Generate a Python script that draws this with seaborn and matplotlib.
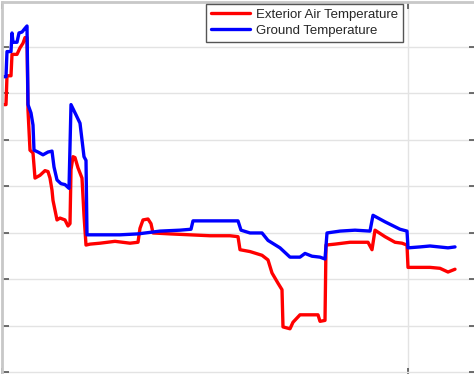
import pandas as pd
import matplotlib.pyplot as plt
import seaborn as sns

# time in hours, temperature in degC
air_hours = [1, 4, 5, 9, 10, 15, 18, 21, 23, 25, 26, 28, 31, 33, 38, 43, 46, 48, 50, 51,
             55, 58, 63, 66, 68, 69, 71, 73, 76, 80, 82, 84, 88, 98, 113, 128, 136, 138,
             141, 146, 149, 151, 168, 188, 208, 228, 236, 238, 248, 260, 266, 270, 276,
             280, 281, 288, 291, 298, 316, 318, 323, 324, 333, 348, 366, 370, 373, 383,
             393, 400, 405, 406, 418, 428, 438, 446, 453]
air_temp = [23.8, 23.8, 26.9, 26.9, 29.2, 29.2, 29.9, 30.4, 31.0, 31.0, 23.2, 18.9, 18.6,
            15.9, 16.2, 16.7, 16.6, 15.9, 14.6, 13.5, 11.4, 11.6, 11.4, 10.75, 11.0, 16.8,
            18.2, 18.1, 17.0, 15.9, 11.9, 8.7, 8.8, 8.9, 9.1, 8.9, 9.0, 10.5, 11.4, 11.5,
            11.0, 10.0, 9.9, 9.8, 9.7, 9.7, 9.6, 8.2, 8.0, 7.6, 7.1, 5.7, 4.6, 3.9, -0.1,
            -0.3, 0.4, 1.2, 1.2, 0.5, 0.6, 8.7, 8.8, 9.0, 9.0, 8.2, 10.3, 9.6, 9.0, 8.9,
            8.7, 6.3, 6.3, 6.3, 6.2, 5.8, 6.1]

ground_hours = [1, 4, 5, 9, 10, 11, 15, 17, 20, 23, 25, 26, 29, 31, 32, 36, 41, 46, 50,
                52, 55, 59, 63, 67, 69, 74, 78, 82, 84, 85, 98, 118, 136, 158, 178, 189,
                191, 236, 239, 248, 260, 266, 278, 288, 298, 303, 310, 318, 323, 325, 338,
                353, 368, 371, 383, 398, 405, 406, 418, 428, 446, 453]
ground_temp = [26.8, 26.8, 29.5, 29.5, 31.5, 30.5, 30.5, 31.5, 31.6, 32.0, 32.25, 23.8,
               22.9, 21.6, 18.9, 18.7, 18.4, 18.7, 18.8, 17.1, 15.7, 15.3, 15.2, 14.8,
               23.8, 22.7, 21.8, 18.2, 17.8, 9.8, 9.8, 9.8, 9.9, 10.2, 10.3, 10.4, 11.3,
               11.3, 10.3, 10.0, 10.0, 9.2, 8.4, 7.4, 7.4, 7.8, 7.5, 7.4, 7.2, 10.0, 10.2,
               10.3, 10.2, 11.9, 11.2, 10.4, 10.2, 8.4, 8.5, 8.6, 8.4, 8.5]

series_names = ['Exterior Air Temperature', 'Ground Temperature']
series_colors = ['#ff0000', '#0000ff']

df = pd.concat([
    pd.DataFrame({'Hour': air_hours, 'Temp': air_temp, 'Series': series_names[0]}),
    pd.DataFrame({'Hour': ground_hours, 'Temp': ground_temp, 'Series': series_names[1]}),
])

sns.set_style('whitegrid')
plt.rcParams['font.family'] = ['Liberation Sans', 'DejaVu Sans']

fig = plt.figure(figsize=(4.74, 3.74), dpi=100)
# axes box runs a little past the right and bottom edge (cropped figure)
ax = fig.add_axes([2 / 474, -1 / 374, 474 / 474, 373 / 374])

sns.lineplot(data=df, x='Hour', y='Temp', hue='Series', palette=series_colors,
             estimator=None, sort=False, linewidth=2.4, ax=ax)

ax.set_xlim(0, 474)
ax.set_ylim(-5.27, 34.83)
ax.set_xticks([0, 406])
ax.set_yticks(range(-5, 35, 5))
ax.grid(True, color='#e3e3e3', linewidth=1)
ax.set_xlabel('')
ax.set_ylabel('')
ax.tick_params(direction='in', length=5, width=1.2, color='#555555',
               labelleft=False, labelbottom=False, left=True, right=True,
               top=True, bottom=True)
for s in ax.spines.values():
    s.set_color('#c8c8c8')
    s.set_linewidth(2)

ax.legend(loc='upper right', bbox_to_anchor=(401 / 474, 1 - 2 / 373),
          borderaxespad=0, fontsize=9.5, frameon=True, fancybox=False,
          edgecolor='#555555', framealpha=1, handlelength=3.0,
          labelspacing=0.3, borderpad=0.35, handletextpad=0.45)
ax.get_legend().get_frame().set_linewidth(1)

fig.savefig('out.png', dpi=100)
